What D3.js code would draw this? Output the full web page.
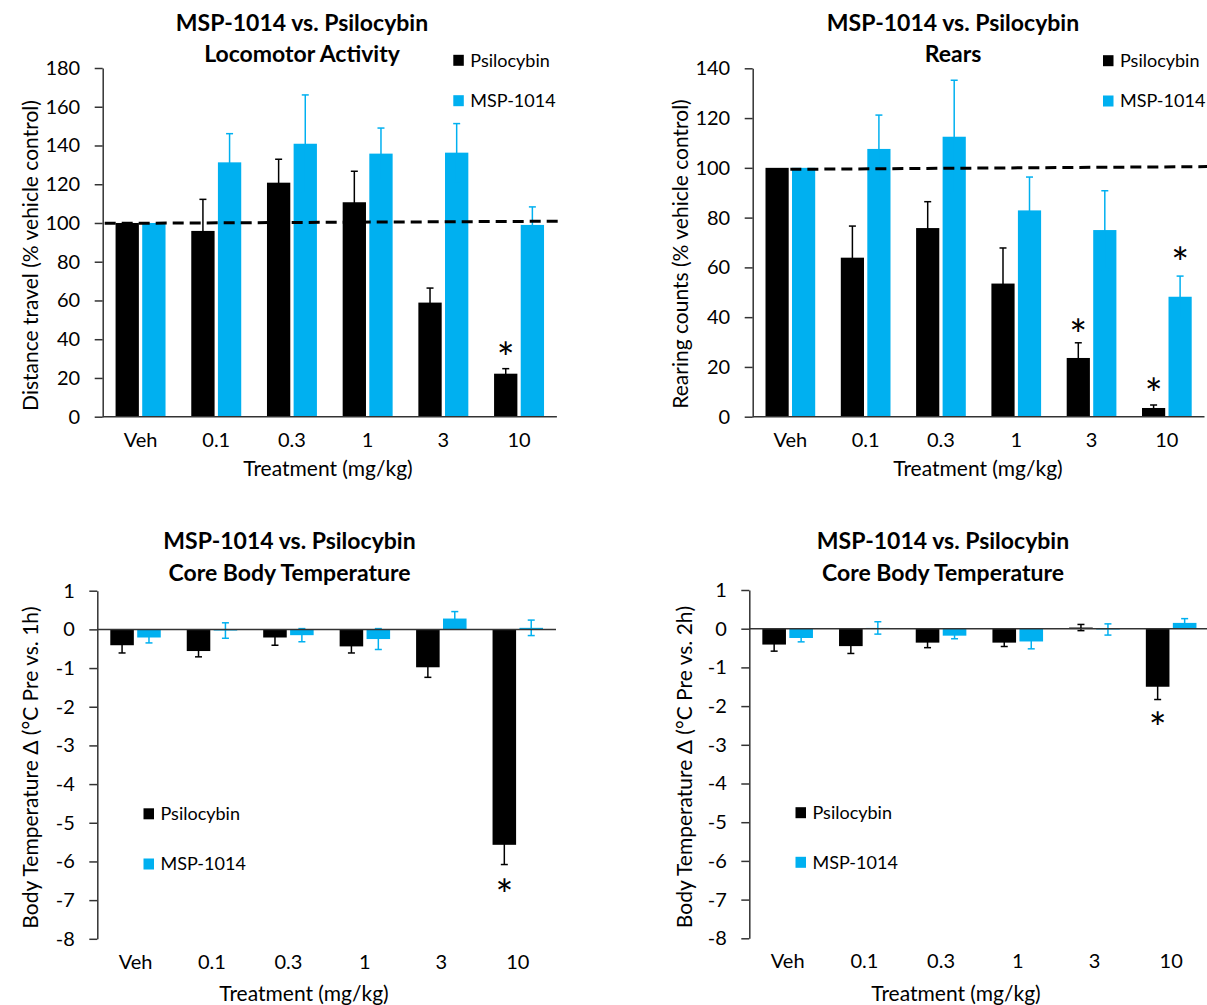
<!DOCTYPE html>
<html><head><meta charset="utf-8">
<script src="https://cdn.jsdelivr.net/npm/d3@7/dist/d3.min.js"></script>
<style>
body{margin:0;background:#fff}
svg{display:block}
text{font-family:Lato,"Open Sans",sans-serif;fill:#000}
</style>
</head><body>
<svg id="c" width="1207" height="1005"></svg>
<script>
// ---------- DATA ----------
const categories = ["Veh", "0.1", "0.3", "1", "3", "10"];
const seriesNames = ["Psilocybin", "MSP-1014"];
const seriesColors = ["#000000", "#00B0F0"];

// Locomotor activity (% vehicle control)
const locoPsi    = [100, 95.9, 120.8, 110.7, 58.9, 22.2];
const locoPsiErr = [0, 16.3, 12.1, 16.0, 7.5, 2.6];
const locoMsp    = [100, 131.3, 140.9, 135.8, 136.3, 99.0];
const locoMspErr = [0, 14.8, 25.2, 13.2, 15.0, 9.3];
const locoTicks  = [0, 20, 40, 60, 80, 100, 120, 140, 160, 180];
const locoRef    = [99.8, 100.9];
const locoStars  = [{cat: "10", series: 0, value: 34.8}];

// Rears (% vehicle control)
const rearPsi    = [100, 63.9, 75.8, 53.5, 23.6, 3.5];
const rearPsiErr = [0, 12.7, 10.6, 14.3, 6.1, 1.2];
const rearMsp    = [100, 107.6, 112.5, 82.9, 75.0, 48.2];
const rearMspErr = [0, 13.6, 22.7, 13.4, 15.8, 8.3];
const rearTicks  = [0, 20, 40, 60, 80, 100, 120, 140];
const rearRef    = [99.4, 100.5];
const rearStars  = [{cat: "3", series: 0, value: 36.2}, {cat: "10", series: 0, value: 12.3}, {cat: "10", series: 1, value: 65}];

// Core body temperature delta, Pre vs 1h
const temp1Psi    = [-0.41, -0.56, -0.21, -0.44, -0.98, -5.57];
const temp1PsiErr = [0.20, 0.15, 0.20, 0.17, 0.26, 0.51];
const temp1Msp    = [-0.21, -0.03, -0.15, -0.25, 0.28, 0.04];
const temp1MspErr = [0.14, 0.20, 0.17, 0.27, 0.18, 0.20];
const temp1Stars  = [{cat: "10", series: 0, value: -6.65}];

// Core body temperature delta, Pre vs 2h
const temp2Psi    = [-0.41, -0.45, -0.36, -0.36, 0.03, -1.50];
const temp2PsiErr = [0.17, 0.19, 0.13, 0.10, 0.08, 0.33];
const temp2Msp    = [-0.24, 0.02, -0.18, -0.33, -0.02, 0.15];
const temp2MspErr = [0.10, 0.16, 0.08, 0.19, 0.145, 0.11];
const temp2Stars  = [{cat: "10", series: 0, value: -2.35}];

const tempTicks = [-8, -7, -6, -5, -4, -3, -2, -1, 0, 1];

// ---------- DRAW ----------
const svg = d3.select("#c");
const AXIS = "#333";

function panel(o) {
  const g = svg.append("g");
  const x = d3.scaleBand().domain(categories).range([o.x0, o.x1]);
  const y = d3.scaleLinear().domain(o.domain).range([o.yBot, o.yTop]);
  const bw = x.bandwidth() * 0.308, gap = x.bandwidth() * 0.044;
  const bx = (cat, s) => x(cat) + x.bandwidth() / 2 + (s === 0 ? -gap / 2 - bw : gap / 2);
  const bc = (cat, s) => bx(cat, s) + bw / 2;

  // bars
  o.values.forEach((vals, si) => {
    g.append("g").selectAll("rect").data(vals).enter().append("rect")
      .attr("x", (d, i) => bx(categories[i], si))
      .attr("width", bw)
      .attr("y", d => y(Math.max(0, d)))
      .attr("height", d => Math.abs(y(d) - y(0)))
      .attr("fill", seriesColors[si]);
  });
  // error bars
  o.values.forEach((vals, si) => {
    const eg = g.append("g").attr("stroke", seriesColors[si]).attr("stroke-width", 1.5);
    vals.forEach((v, i) => {
      const e = o.errs[si][i];
      if (!e) return;
      const cx = bc(categories[i], si);
      eg.append("line").attr("x1", cx).attr("x2", cx).attr("y1", y(v - e)).attr("y2", y(v + e));
      [v - e, v + e].forEach(t => eg.append("line")
        .attr("x1", cx - 3.5).attr("x2", cx + 3.5).attr("y1", y(t)).attr("y2", y(t)));
    });
  });

  // y axis
  const ya = g.append("g").attr("transform", `translate(${o.x0},0)`)
    .call(d3.axisLeft(y).tickValues(o.ticks).tickSize(8).tickSizeOuter(0).tickPadding(14.5)
      .tickFormat(d => String(d)));
  ya.selectAll("path,line").attr("stroke", AXIS).attr("stroke-width", 1.5);
  ya.selectAll("text").attr("font-size", 20).attr("font-family", "Lato").attr("fill", "#000");

  // zero baseline (horizontal axis)
  g.append("line").attr("x1", o.x0).attr("x2", o.x1).attr("y1", y(0)).attr("y2", y(0))
    .attr("stroke", AXIS).attr("stroke-width", 1.5);

  // category labels at bottom of plot
  const xa = g.append("g").attr("transform", `translate(0,${o.yBot})`)
    .call(d3.axisBottom(x).tickSize(0).tickPadding(15.8));
  xa.select(".domain").remove();
  xa.selectAll("text").attr("font-size", 20).attr("font-family", "Lato").attr("fill", "#000");

  // reference line
  if (o.ref) {
    const rx0 = o.refFromCenter ? x(categories[0]) + x.bandwidth() / 2 : o.x0 + 2;
    g.append("line").attr("x1", rx0).attr("x2", o.refEnd)
      .attr("y1", y(o.ref[0])).attr("y2", y(o.ref[1]))
      .attr("stroke", "#000").attr("stroke-width", 3).attr("stroke-dasharray", "11,6");
  }

  // significance stars
  g.append("g").selectAll("text").data(o.stars).enter().append("text")
    .attr("x", d => bc(d.cat, d.series))
    .attr("y", d => y(d.value))
    .attr("dy", "0.555em")
    .attr("text-anchor", "middle").attr("font-size", 42).attr("fill", "#222").text("*");

  // legend
  seriesNames.forEach((nm, si) => {
    const cy = o.legY[si];
    g.append("rect").attr("x", o.legX).attr("y", cy - 5.5).attr("width", 10.5).attr("height", 11)
      .attr("fill", seriesColors[si]);
    g.append("text").attr("x", o.legX + 17).attr("y", cy).attr("dy", "0.35em")
      .attr("font-size", 18).text(nm);
  });

  // titles
  o.title.forEach((t, k) => {
    g.append("text").attr("x", o.titleX).attr("y", o.titleY[k]).attr("text-anchor", "middle")
      .attr("font-size", 23).attr("font-weight", 700).text(t);
  });
  g.append("text").attr("transform", `translate(${o.yTitleX},${o.yTitleY}) rotate(-90)`)
    .attr("text-anchor", "middle").attr("dy", "0.35em").attr("font-size", 21).text(o.yTitle);
  g.append("text").attr("x", o.xTitleX).attr("y", o.xTitleY).attr("text-anchor", "middle")
    .attr("font-size", 21).text("Treatment (mg/kg)");
}

panel({
  x0: 102.7, x1: 556.9, yTop: 68, yBot: 416.7, domain: [0, 180], ticks: locoTicks,
  values: [locoPsi, locoMsp], errs: [locoPsiErr, locoMspErr],
  ref: locoRef, refFromCenter: false, refEnd: 559, stars: locoStars,
  legX: 453.3, legY: [60.3, 100.7],
  title: ["MSP-1014 vs. Psilocybin", "Locomotor Activity"], titleX: 302, titleY: [31, 61.5],
  yTitle: "Distance travel (% vehicle control)", yTitleX: 30.5, yTitleY: 255.5,
  xTitleX: 328, xTitleY: 476
});
panel({
  x0: 752.7, x1: 1204.5, yTop: 68.3, yBot: 416.7, domain: [0, 140], ticks: rearTicks,
  values: [rearPsi, rearMsp], errs: [rearPsiErr, rearMspErr],
  ref: rearRef, refFromCenter: true, refEnd: 1207, stars: rearStars,
  legX: 1103, legY: [60.7, 101],
  title: ["MSP-1014 vs. Psilocybin", "Rears"], titleX: 953, titleY: [31, 61.5],
  yTitle: "Rearing counts (% vehicle control)", yTitleX: 681, yTitleY: 254,
  xTitleX: 978, xTitleY: 476
});
panel({
  x0: 97.3, x1: 556, yTop: 590.7, yBot: 938.8, domain: [-8, 1], ticks: tempTicks,
  values: [temp1Psi, temp1Msp], errs: [temp1PsiErr, temp1MspErr],
  ref: null, stars: temp1Stars,
  legX: 143.5, legY: [813.8, 864],
  title: ["MSP-1014 vs. Psilocybin", "Core Body Temperature"], titleX: 289.5, titleY: [549.3, 581],
  yTitle: "Body Temperature \u0394 (\u00B0C Pre vs. 1h)", yTitleX: 31, yTitleY: 767.5,
  xTitleX: 304, xTitleY: 1001
});
panel({
  x0: 749.3, x1: 1209.5, yTop: 590, yBot: 938.3, domain: [-8, 1], ticks: tempTicks,
  values: [temp2Psi, temp2Msp], errs: [temp2PsiErr, temp2MspErr],
  ref: null, stars: temp2Stars,
  legX: 795.5, legY: [812.7, 862.3],
  title: ["MSP-1014 vs. Psilocybin", "Core Body Temperature"], titleX: 943, titleY: [549.3, 581],
  yTitle: "Body Temperature \u0394 (\u00B0C Pre vs. 2h)", yTitleX: 685, yTitleY: 767,
  xTitleX: 956, xTitleY: 1001
});
</script>
</body></html>
